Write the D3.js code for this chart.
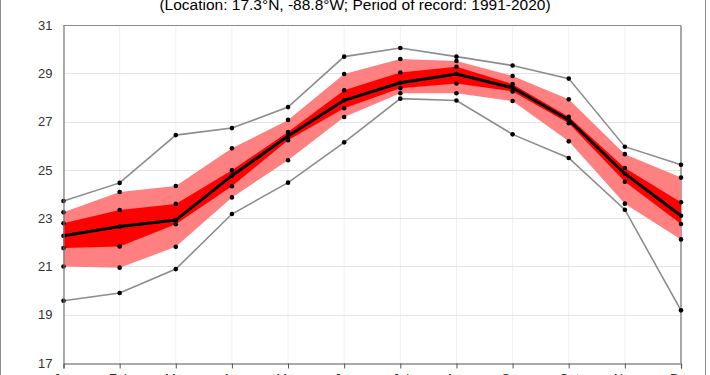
<!DOCTYPE html>
<html>
<head>
<meta charset="utf-8">
<script src="https://cdn.jsdelivr.net/npm/d3@7"></script>
<style>
html,body{margin:0;padding:0;background:#fff;}
svg{display:block;}
text{font-family:"Liberation Sans","Noto Sans",Arial,sans-serif;}
</style>
</head>
<body>
<svg id="chart" width="710" height="375"></svg>
<script>
const months = ["Jan","Feb","Mar","Apr","May","Jun","Jul","Aug","Sep","Oct","Nov","Dec"];
const maxT  = [23.71,24.46,26.44,26.73,27.60,29.69,30.05,29.69,29.32,28.78,25.96,25.21];
const p90   = [23.24,24.08,24.33,25.89,27.07,28.97,29.59,29.51,28.89,27.92,25.65,24.68];
const p75   = [22.79,23.34,23.59,24.98,26.57,28.30,29.03,29.27,28.55,27.20,25.08,23.66];
const meanT = [22.27,22.65,22.92,24.76,26.40,27.88,28.61,28.97,28.40,27.07,24.84,23.10];
const p25   = [21.76,21.83,22.75,24.32,26.23,27.55,28.38,28.58,28.25,26.93,24.51,22.76];
const p10   = [21.00,20.95,21.81,23.86,25.40,27.19,28.17,28.17,27.85,26.18,23.60,22.12];
const minT  = [19.58,19.90,20.89,23.17,24.47,26.14,27.95,27.87,26.47,25.49,23.35,19.18];
const yTicks = [17,19,21,23,25,27,29,31];
const subtitle = "(Location: 17.3°N, -88.8°W; Period of record: 1991-2020)";

const svg = d3.select("#chart");
const x = d3.scalePoint().domain(months).range([63.5, 681]);
const y = d3.scaleLinear().domain([17,31]).range([363,25]);

// chart area border
svg.append("rect").attr("x",0.5).attr("y",-5).attr("width",705).attr("height",400)
  .attr("fill","#fff").attr("stroke","#8c8c8c").attr("stroke-width",1);

// subtitle
svg.append("text").attr("x",355).attr("y",10).attr("text-anchor","middle")
  .attr("font-size","15.5px").attr("fill","#000").text(subtitle);

// gridlines
const g = svg.append("g");
g.selectAll("line.vg").data(months).join("line")
  .attr("x1",d=>x(d)).attr("x2",d=>x(d)).attr("y1",y(31)).attr("y2",y(17))
  .attr("stroke","#f0f0f0").attr("stroke-width",1);
g.selectAll("line.hg").data(yTicks.filter(t=>t>17&&t<31)).join("line")
  .attr("x1",x("Jan")).attr("x2",x("Dec")).attr("y1",d=>Math.round(y(d))+0.5).attr("y2",d=>Math.round(y(d))+0.5)
  .attr("stroke","#e4e4e4").attr("stroke-width",1);

// plot border top/right
svg.append("line").attr("x1",x("Jan")).attr("x2",x("Dec")).attr("y1",25.5).attr("y2",25.5).attr("stroke","#8c8c8c");
svg.append("line").attr("x1",x("Dec")).attr("x2",x("Dec")).attr("y1",25.5).attr("y2",363).attr("stroke","#8c8c8c").attr("stroke-width",1.5);

const idx = d3.range(months.length);
const area = (top,bot) => d3.area().x(i=>x(months[i])).y0(i=>y(bot[i])).y1(i=>y(top[i]));
const line = arr => d3.line().x(i=>x(months[i])).y(i=>y(arr[i]));

svg.append("path").attr("d",area(p90,p10)(idx)).attr("fill","#ff8080");
svg.append("path").attr("d",area(p75,p25)(idx)).attr("fill","#ff0000");

[maxT,minT].forEach(s=>{
  svg.append("path").attr("d",line(s)(idx)).attr("fill","none").attr("stroke","#8c8c8c").attr("stroke-width",1.6);
});
svg.append("path").attr("d",line(meanT)(idx)).attr("fill","none").attr("stroke","#000").attr("stroke-width",3);

[maxT,p90,p75,meanT,p25,p10,minT].forEach(s=>{
  svg.append("g").selectAll("circle").data(idx).join("circle")
    .attr("cx",i=>x(months[i])).attr("cy",i=>y(s[i])).attr("r",2.3).attr("fill","#000");
});

// axes
const yAxis = d3.axisLeft(y).tickValues(yTicks).tickSize(0).tickPadding(11).tickFormat(d3.format("d"));
const ya = svg.append("g").attr("transform","translate(63.5,0)").call(yAxis);
ya.select(".domain").attr("stroke","#777").attr("stroke-width",1.2);
ya.selectAll("text").attr("font-size","13px").attr("fill","#333").style("font-family","Liberation Sans, Arial, sans-serif");

const xAxis = d3.axisBottom(x).tickSize(5).tickPadding(5.5);
const xa = svg.append("g").attr("transform","translate(0,363.5)").call(xAxis);
xa.select(".domain").attr("stroke","#555").attr("stroke-width",1.2);
xa.selectAll(".tick line").attr("stroke","#555");
xa.selectAll("text").attr("font-size","13px").attr("fill","#333").style("font-family","Liberation Sans, Arial, sans-serif");
</script>
</body>
</html>
